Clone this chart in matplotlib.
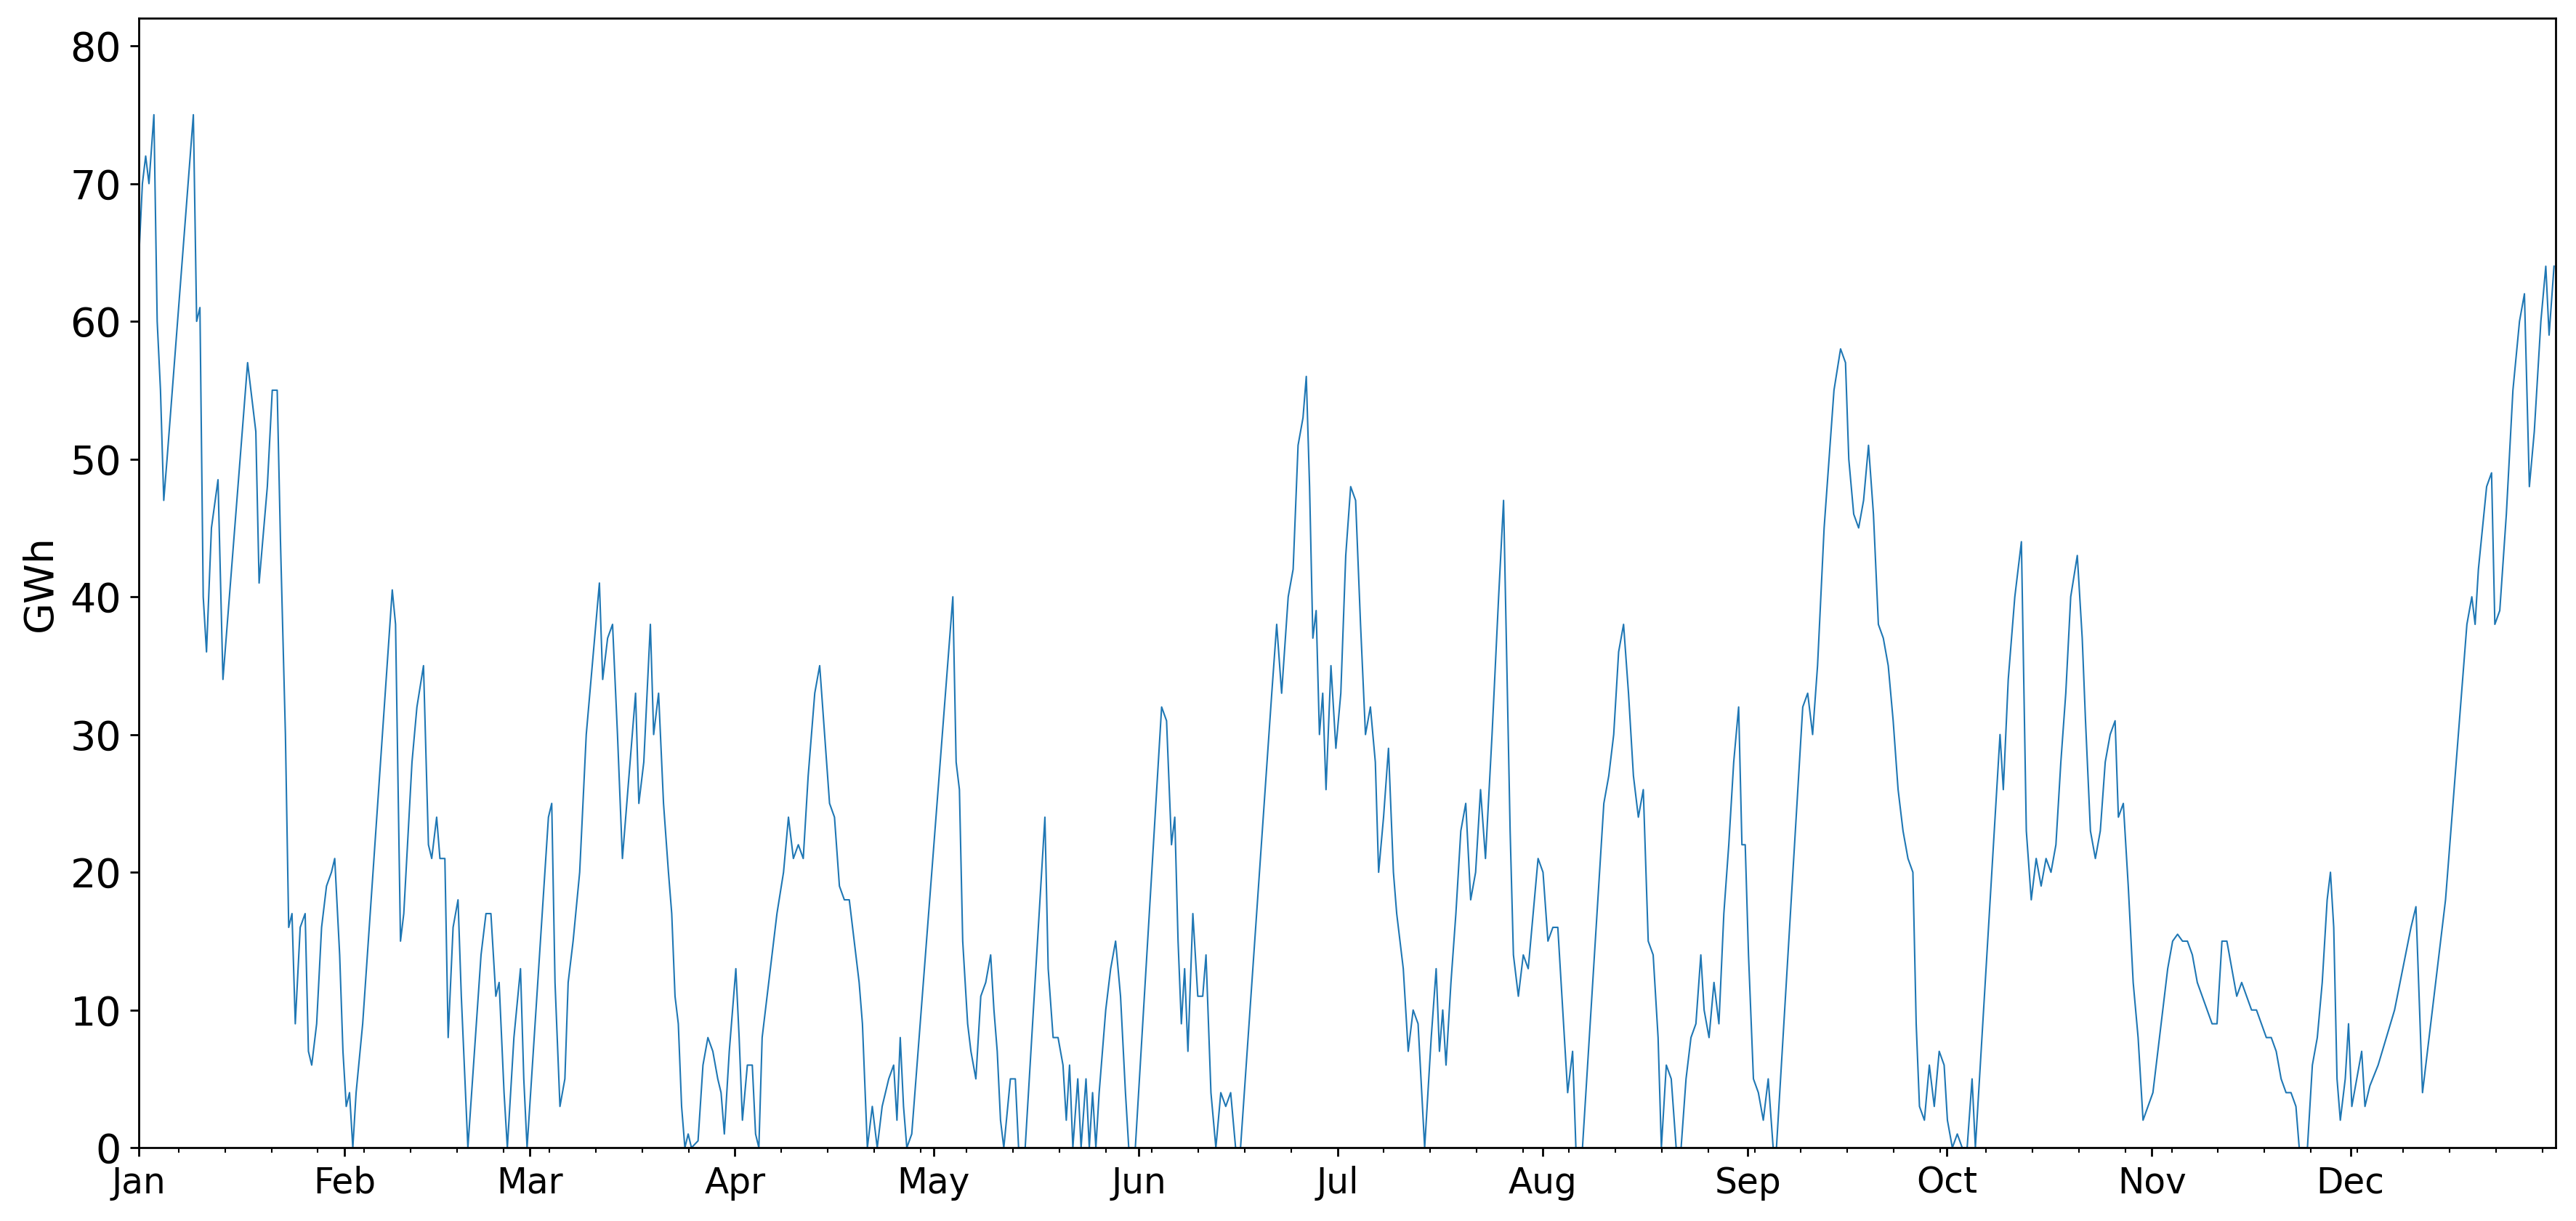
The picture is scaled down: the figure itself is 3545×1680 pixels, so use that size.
import matplotlib
matplotlib.use("Agg")
import matplotlib.pyplot as plt
import matplotlib.dates as mdates
import numpy as np
import pandas as pd

# (pixel-read position along the year, value in GWh)
px = [84,86,88,90,93,95,97,99,101,117,119,121,123,125,128,132,135,150,152,155,157,162,165,168,170,173,175,177,179,182,185,187,189,192,195,198,201,203,206,208,210,212,214,216,220,238,240,243,245,250,253,257,260,262,265,267,270,272,275,278,280,284,292,295,298,301,303,306,308,312,316,318,320,333,335,337,340,343,345,348,352,356,364,366,369,372,375,378,382,386,388,391,395,397,400,403,406,408,410,412,414,416,418,420,424,427,430,433,436,438,440,443,447,449,451,454,457,459,461,463,466,469,472,476,479,482,485,488,491,495,498,501,504,507,510,513,516,519,522,524,527,530,533,536,540,543,545,547,549,551,554,579,581,583,585,588,590,593,596,599,602,604,606,608,610,614,617,619,623,635,637,640,643,646,648,650,652,655,657,660,662,664,666,668,672,675,678,681,684,686,690,706,709,712,714,716,718,720,722,725,728,731,733,736,739,742,745,748,751,754,773,776,779,783,786,789,792,794,796,798,800,802,804,806,809,812,815,818,821,824,827,830,833,836,838,841,844,847,849,851,853,856,859,862,866,870,873,875,877,879,882,885,888,891,894,897,900,903,907,911,914,916,918,920,923,926,929,932,935,938,941,944,947,950,953,956,958,962,975,978,981,984,987,990,993,996,999,1002,1005,1008,1010,1013,1016,1019,1022,1025,1028,1031,1034,1036,1039,1042,1045,1048,1051,1054,1057,1059,1061,1063,1066,1069,1072,1075,1078,1080,1096,1099,1102,1105,1109,1112,1115,1119,1122,1124,1127,1130,1133,1136,1139,1142,1145,1148,1151,1154,1157,1160,1163,1165,1167,1170,1173,1176,1179,1182,1184,1187,1190,1193,1196,1199,1201,1216,1218,1221,1225,1229,1232,1235,1238,1241,1244,1247,1250,1253,1256,1259,1263,1266,1268,1271,1274,1277,1280,1283,1286,1288,1291,1294,1297,1300,1303,1306,1309,1312,1315,1318,1321,1324,1327,1330,1333,1336,1339,1342,1345,1348,1351,1354,1357,1360,1363,1366,1369,1372,1375,1378,1381,1384,1387,1390,1393,1396,1398,1403,1406,1409,1412,1415,1417,1419,1421,1423,1426,1428,1430,1433,1436,1438,1441,1446,1451,1456,1461,1466,1469,1473,1477,1481,1487,1500,1503,1505,1507,1512,1515,1517,1520,1524,1528,1532,1535,1538,1541,1545,1548,1550,1553]
vals = [65,70,72,70,75,60,55,47,50,75,60,61,40,36,45,48.5,34,57,55,52,41,48,55,55,44,30,16,17,9,16,17,7,6,9,16,19,20,21,14,7,3,4,0,4,9,40.5,38,15,17,28,32,35,22,21,24,21,21,8,16,18,11,0,14,17,17,11,12,4,0,8,13,5,0,24,25,12,3,5,12,15,20,30,41,34,37,38,30,21,27,33,25,28,38,30,33,25,20,17,11,9,3,0,1,0,0.5,6,8,7,5,4,1,7,13,8,2,6,6,1,0,8,11,14,17,20,24,21,22,21,27,33,35,30,25,24,19,18,18,15,12,9,0,3,0,3,5,6,2,8,3,0,1,40,28,26,15,9,7,5,11,12,14,10,7,2,0,5,5,0,0,24,13,8,8,6,2,6,0,5,0,5,0,4,0,4,10,13,15,11,4,0,0,32,31,22,24,15,9,13,7,17,11,11,14,4,0,4,3,4,0,0,33,38,33,40,42,51,53,56,48,37,39,30,33,26,35,29,33,43,48,47,38,30,32,28,20,24,29,20,17,15,13,7,10,9,0,8,13,7,10,6,12,17,23,25,18,20,26,21,30,40,47,35,23,14,11,14,13,17,21,20,15,16,16,10,4,7,0,0,25,27,30,36,38,33,27,24,26,15,14,8,0,6,5,0,0,5,8,9,14,10,8,12,9,17,22,28,32,22,22,14,5,4,2,5,0,0,32,33,30,35,45,50,55,58,57,50,46,45,47,51,46,38,37,35,31,26,23,21,20,9,3,2,6,3,7,6,2,0,1,0,0,5,0,30,26,34,40,44,23,18,21,19,21,20,22,28,33,40,43,37,31,23,21,23,28,30,31,24,25,19,12,8,2,3,4,7,10,13,15,15.5,15,15,14,12,11,10,9,9,15,15,13,11,12,11,10,10,9,8,8,7,5,4,4,3,0,0,6,8,12,18,20,16,5,2,5,9,3,5,7,3,4.5,6,8,10,13,16,17.5,4,8,12,18,38,40,38,42,48,49,38,39,46,55,60,62,48,52,60,64,59,64]

start = pd.Timestamp("2019-01-01")
days = (np.array(px) - 84) / (1470 / 365)
dates = start + pd.to_timedelta(days, unit="D")

fig = plt.figure(figsize=(14.18, 6.72), dpi=250)
ax = fig.add_axes([0.054, 0.06, 0.938, 0.925])
ax.plot(dates, vals, color="#1f77b4", linewidth=0.6)
ax.set_xlim(start, pd.Timestamp("2019-12-31 23:00"))
ax.set_ylim(0, 82)
ax.set_ylabel("GWh", fontsize=16)
ax.xaxis.set_major_locator(mdates.MonthLocator())
ax.xaxis.set_major_formatter(mdates.DateFormatter("%b"))
ax.xaxis.set_minor_locator(mdates.WeekdayLocator(byweekday=0))
ax.tick_params(axis="x", labelsize=14)
ax.tick_params(axis="y", labelsize=16)
fig.savefig("out.png")
